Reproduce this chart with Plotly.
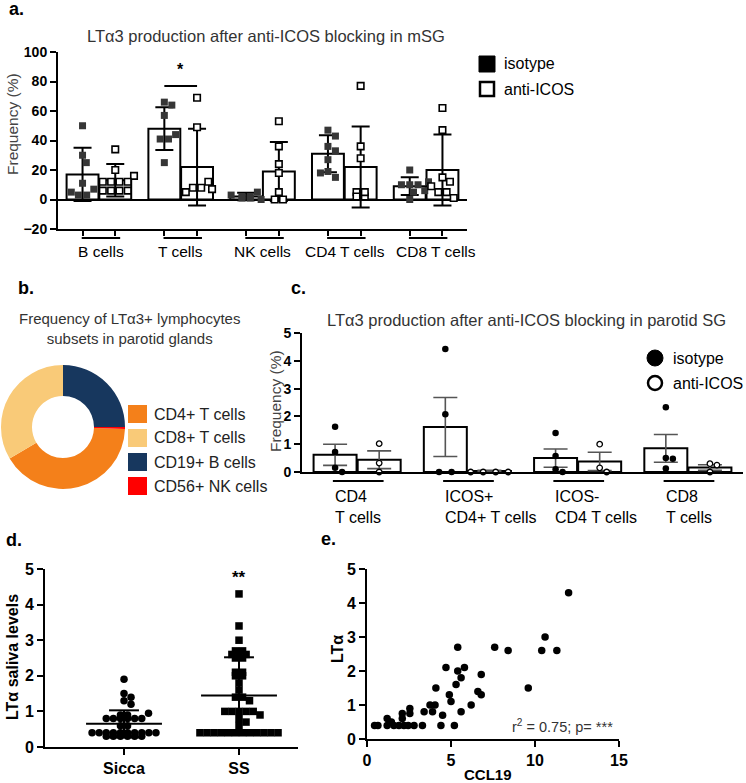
import plotly.graph_objects as go

W, H = 746, 783
FONT = "Arial, Liberation Sans, sans-serif"


def px(x):
    return x / W


def py(y):
    return 1 - y / H


# ---------------- data ----------------
# panel a: LTa3 production after anti-ICOS blocking in mSG (%), mean +/- SD
a_cats = ["B cells", "T cells", "NK cells", "CD4 T cells", "CD8 T cells"]
a_iso_mean = [17, 48, 2, 31, 9]
a_iso_sd = [18, 14.5, 2.5, 12.5, 6]
a_anti_mean = [13, 22, 19, 22, 20]
a_anti_sd = [11, 26, 20, 27.5, 24]
a_iso_pts = [
    [50, 30, 25, 11, 7, 3, 3, 5],
    [66, 64, 57, 44, 41, 41, 25],
    [5, 3, 2, 1, 1, 2, 0],
    [47, 43, 36, 33, 27, 19, 15, 18],
    [20, 12, 10, 10, 10, 6, 5, 0],
]
a_anti_pts = [
    [34, 20, 16, 12, 12, 12, 12, 6, 6, 6, 6],
    [69, 49, 12, 8, 7, 5, 8],
    [53, 36, 24, 18, 5, 0, 0],
    [77, 36, 28, 5, 2, 2, 5],
    [62, 47, 15, 12, 9, 5, 5, 1],
]
a_sig_y = 77

# panel b: frequency of LTa3+ lymphocyte subsets in parotid glands
b_labels = ["CD4+ T cells", "CD8+ T cells", "CD19+ B cells", "CD56+ NK cells"]
b_values = [41, 33.5, 25, 0.5]
b_colors = ["#F4801A", "#F9CA78", "#17375E", "#FF0000"]

# panel c: LTa3 production after anti-ICOS blocking in parotid SG (%), mean +/- SEM
c_cats = ["CD4<br>T cells", "ICOS+<br>CD4+ T cells", "ICOS-<br>CD4 T cells", "CD8<br>T cells"]
c_iso_mean = [0.62, 1.62, 0.5, 0.85]
c_iso_sem = [0.38, 1.06, 0.33, 0.5]
c_anti_mean = [0.44, 0.04, 0.38, 0.16]
c_anti_sem = [0.32, 0.02, 0.33, 0.1]
c_iso_pts = [
    [1.63, 0.72, 0.15, 0.0],
    [4.42, 2.08, 0.0, 0.0],
    [1.4, 0.58, 0.1, 0.0],
    [2.33, 0.5, 0.48, 0.13],
]
c_anti_pts = [
    [1.02, 0.32, 0.0],
    [0.0, 0.0, 0.0, 0.0],
    [1.0, 0.15, 0.0],
    [0.3, 0.25, 0.0],
]

# panel d: LTa saliva levels
d_cats = ["Sicca", "SS"]
d_sicca = [1.9, 1.5, 1.4, 1.3, 1.2, 0.95, 0.9, 0.9,
           0.8, 0.8, 0.8, 0.8, 0.8, 0.8, 0.6, 0.6,
           0.4, 0.4, 0.4, 0.4, 0.4, 0.4, 0.4, 0.4, 0.4, 0.4,
           0.3, 0.3, 0.3, 0.3, 0.3, 0.3]
d_ss = [4.3, 3.4, 3.0, 2.7, 2.7, 2.6, 2.6, 2.6, 2.5, 2.5,
        2.1, 2.1, 2.0, 2.0, 1.8, 1.6, 1.4, 1.4, 1.3,
        1.0, 1.0, 1.0, 1.0, 1.0, 0.9, 0.8, 0.7, 0.6,
        0.4, 0.4, 0.4, 0.4, 0.4, 0.4, 0.4, 0.4, 0.4, 0.4, 0.4, 0.4]
d_mean = [0.65, 1.45]
d_sd = [0.38, 1.07]

# panel e: CCL19 vs LTa
e_ccl19 = [0.45, 0.65, 1.2, 1.2, 1.45, 1.6, 1.9, 2.1, 2.1, 2.2,
           2.45, 2.55, 2.55, 2.8, 3.3, 3.4, 3.75, 4.05, 3.9, 4.1,
           4.5, 4.4, 4.7, 4.9, 5.0, 5.2, 5.3, 5.4, 5.4, 5.6,
           5.6, 5.8, 6.2, 6.6, 6.8, 6.8, 7.6, 8.4, 9.6, 10.4,
           10.6, 11.3, 12.0]
e_lta = [0.4, 0.4, 0.6, 0.4, 0.5, 0.4, 0.4, 0.75, 0.6, 0.4,
         0.4, 0.9, 0.75, 0.4, 0.4, 0.8, 1.0, 1.0, 0.8, 1.5,
         0.7, 0.4, 2.1, 1.3, 1.1, 0.4, 1.6, 2.7, 2.0, 1.8,
         0.8, 2.1, 1.0, 1.4, 1.3, 1.9, 2.7, 2.6, 1.5, 2.6,
         3.0, 2.6, 4.3]
e_note = "r<sup>2</sup> = 0.75; p= ***"


# ---------------- helpers ----------------
def swarm(vals, ypx, xpx, row_step, coll):
    """Deterministic beeswarm: returns x offsets in data units."""
    n = len(vals)
    offs = [None] * n
    placed = []
    groups = {}
    for i, v in enumerate(vals):
        groups.setdefault(v, []).append(i)
    for v, idxs in sorted(groups.items(), key=lambda kv: -len(kv[1])):
        if len(idxs) > 1:
            k = len(idxs)
            for j, i in enumerate(idxs):
                o = (j - (k - 1) / 2) * row_step
                offs[i] = o
                placed.append((o, v * ypx))
    step = coll / 2
    for i, v in enumerate(vals):
        if offs[i] is not None:
            continue
        y = v * ypx
        k = 0
        chosen = None
        while chosen is None:
            cands = [0.0] if k == 0 else [k * step, -k * step]
            for c in cands:
                if all((c - p[0]) ** 2 + (y - p[1]) ** 2 >= coll ** 2 for p in placed):
                    chosen = c
                    break
            k += 1
        offs[i] = chosen
        placed.append((chosen, y))
    return [o / xpx for o in offs]


fig = go.Figure()

# ---------------- panel a ----------------
OFF_A, BW_A = 0.2, 0.39
A_YPX, A_XPX = 177 / 120, 409 / 5
a_x = list(range(len(a_cats)))
for means, sds, sign in [(a_iso_mean, a_iso_sd, -1), (a_anti_mean, a_anti_sd, 1)]:
    fig.add_trace(go.Bar(
        x=[i + sign * OFF_A for i in a_x], y=means, width=BW_A,
        marker=dict(color="white", line=dict(color="black", width=2)),
        error_y=dict(type="data", array=sds, color="black", thickness=2, width=9),
        xaxis="x", yaxis="y", showlegend=False, hoverinfo="skip"))

for pts, sign, style in [(a_iso_pts, -1, "iso"), (a_anti_pts, 1, "anti")]:
    xs, ys = [], []
    for i, vals in enumerate(pts):
        offs = swarm(vals, A_YPX, A_XPX, 8.3, 7.5)
        xs += [i + sign * OFF_A + o for o in offs]
        ys += vals
    if style == "iso":
        mk = dict(symbol="square", size=7, color="#363636", line=dict(width=0))
    else:
        mk = dict(symbol="square", size=6.5, color="white", line=dict(color="black", width=1.6))
    fig.add_trace(go.Scatter(x=xs, y=ys, mode="markers", marker=mk,
                             xaxis="x", yaxis="y", showlegend=False, hoverinfo="skip"))

# ---------------- panel c ----------------
OFF_C, BW_C = 0.2, 0.39
C_YPX, C_XPX = 139 / 5, 441 / 4
c_x = list(range(len(c_cats)))
for means, sems, sign in [(c_iso_mean, c_iso_sem, -1), (c_anti_mean, c_anti_sem, 1)]:
    fig.add_trace(go.Bar(
        x=[i + sign * OFF_C for i in c_x], y=means, width=BW_C,
        marker=dict(color="white", line=dict(color="black", width=2)),
        error_y=dict(type="data", array=sems, color="#555555", thickness=1.6, width=12),
        xaxis="x2", yaxis="y2", showlegend=False, hoverinfo="skip"))

for pts, sign, style in [(c_iso_pts, -1, "iso"), (c_anti_pts, 1, "anti")]:
    xs, ys = [], []
    for i, vals in enumerate(pts):
        offs = swarm(vals, C_YPX, C_XPX, 12.5, 7)
        xs += [i + sign * OFF_C + o for o in offs]
        ys += vals
    if style == "iso":
        mk = dict(symbol="circle", size=6.5, color="black", line=dict(width=0))
    else:
        mk = dict(symbol="circle", size=5.5, color="white", line=dict(color="black", width=1.3))
    fig.add_trace(go.Scatter(x=xs, y=ys, mode="markers", marker=mk, cliponaxis=False,
                             xaxis="x2", yaxis="y2", showlegend=False, hoverinfo="skip"))

# ---------------- panel b (donut) ----------------
rot = (b_values[2] + b_values[3]) / sum(b_values) * 360
fig.add_trace(go.Pie(
    labels=b_labels, values=b_values, hole=0.5, sort=False, direction="clockwise",
    rotation=rot, marker=dict(colors=b_colors, line=dict(width=0)),
    textinfo="none", hoverinfo="skip", showlegend=False,
    domain=dict(x=[px(1), px(125)], y=[py(489), py(365)])))

# ---------------- panel d ----------------
D_YPX, D_XPX = 178 / 5, 115
for gi, (vals, sym) in enumerate([(d_sicca, "circle"), (d_ss, "square")]):
    offs = swarm(vals, D_YPX, D_XPX, 7.1, 7)
    fig.add_trace(go.Scatter(
        x=[gi + o for o in offs], y=vals, mode="markers",
        marker=dict(symbol=sym, size=7.5, color="black", line=dict(width=0)),
        cliponaxis=False, xaxis="x3", yaxis="y3", showlegend=False, hoverinfo="skip"))
lx, ly = [], []
for gi, (m, s) in enumerate(zip(d_mean, d_sd)):
    lx += [gi - 0.33, gi + 0.33, None, gi, gi, None,
           gi - 0.13, gi + 0.13, None, gi - 0.13, gi + 0.13, None]
    ly += [m, m, None, m - s, m + s, None, m + s, m + s, None, m - s, m - s, None]
fig.add_trace(go.Scatter(x=lx, y=ly, mode="lines", line=dict(color="black", width=2),
                         xaxis="x3", yaxis="y3", showlegend=False, hoverinfo="skip"))

# ---------------- panel e ----------------
fig.add_trace(go.Scatter(
    x=e_ccl19, y=e_lta, mode="markers",
    marker=dict(symbol="circle", size=7.5, color="black", line=dict(width=0)),
    cliponaxis=False, xaxis="x4", yaxis="y4", showlegend=False, hoverinfo="skip"))

# ---------------- axes ----------------
tick_bold = lambda s: dict(family=FONT, size=s, color="black", weight="bold")
ax_common = dict(showgrid=False, showline=True, linecolor="black", linewidth=2,
                 zeroline=False, fixedrange=True, automargin=False)

a_tickvals = [i - OFF_A for i in a_x] + [i + OFF_A for i in a_x]
layout_axes = dict(
    xaxis=dict(domain=[px(58), px(467)], range=[-0.5, 4.5], anchor="y",
               tickvals=a_tickvals, showticklabels=False, ticks="outside",
               ticklen=5, tickwidth=1.5, tickcolor="black", **ax_common),
    yaxis=dict(domain=[py(229), py(52)], range=[-20, 100], anchor="x",
               tickvals=[-20, 0, 20, 40, 60, 80, 100], ticks="outside", ticklen=6,
               tickwidth=2, tickcolor="black", tickfont=tick_bold(14),
               showgrid=False, showline=True, linecolor="black", linewidth=2,
               zeroline=True, zerolinecolor="black", zerolinewidth=2, fixedrange=True,
               automargin=False),
    xaxis2=dict(domain=[px(302), px(743)], range=[-0.5, 3.5], anchor="y2",
                showticklabels=False, ticks="", **ax_common),
    yaxis2=dict(domain=[py(472), py(333)], range=[0, 5], anchor="x2", dtick=1,
                ticks="outside", ticklen=6, tickwidth=2, tickcolor="black",
                tickfont=tick_bold(14), **ax_common),
    xaxis3=dict(domain=[px(45), px(298)], range=[-0.687, 1.513], anchor="y3",
                tickvals=[0, 1], ticktext=d_cats, ticks="outside", ticklen=6,
                tickwidth=2, tickcolor="black", tickfont=tick_bold(16), **ax_common),
    yaxis3=dict(domain=[py(747), py(569)], range=[0, 5], anchor="x3", dtick=1,
                ticks="outside", ticklen=6, tickwidth=2, tickcolor="black",
                tickfont=tick_bold(16), **ax_common),
    xaxis4=dict(domain=[px(367), px(619)], range=[0, 15], anchor="y4", dtick=5,
                ticks="outside", ticklen=6, tickwidth=2, tickcolor="black",
                tickfont=tick_bold(16), **ax_common),
    yaxis4=dict(domain=[py(739), py(569)], range=[0, 5], anchor="x4", dtick=1,
                ticks="outside", ticklen=6, tickwidth=2, tickcolor="black",
                tickfont=tick_bold(16), **ax_common),
)

# ---------------- shapes ----------------
shapes = []
for i in a_x:
    shapes.append(dict(type="line", xref="x", yref="paper", x0=i - OFF_A - 0.01, x1=i + OFF_A + 0.06,
                       y0=py(238), y1=py(238), line=dict(color="black", width=2)))
shapes.append(dict(type="line", xref="x", yref="y", x0=1 - OFF_A, x1=1 + OFF_A,
                   y0=a_sig_y, y1=a_sig_y, line=dict(color="black", width=2)))
for i in c_x:
    shapes.append(dict(type="line", xref="x2", yref="paper", x0=i - OFF_C - 0.02, x1=i + OFF_C + 0.04,
                       y0=py(481), y1=py(481), line=dict(color="black", width=2)))
# legend a
shapes.append(dict(type="rect", xref="paper", yref="paper", x0=px(479), x1=px(495),
                   y0=py(72), y1=py(56), fillcolor="black", line=dict(color="black", width=1)))
shapes.append(dict(type="rect", xref="paper", yref="paper", x0=px(480), x1=px(494),
                   y0=py(96), y1=py(82), fillcolor="white", line=dict(color="black", width=2.5)))
# legend c
shapes.append(dict(type="circle", xref="paper", yref="paper", x0=px(647), x1=px(663),
                   y0=py(366), y1=py(350), fillcolor="black", line=dict(color="black", width=1)))
shapes.append(dict(type="circle", xref="paper", yref="paper", x0=px(648), x1=px(662),
                   y0=py(390), y1=py(376), fillcolor="white", line=dict(color="black", width=2.5)))
# legend b
for k, (lab, col) in enumerate(zip(b_labels, b_colors)):
    yc = 414 + k * 24
    shapes.append(dict(type="rect", xref="paper", yref="paper", x0=px(128), x1=px(147),
                       y0=py(yc + 9), y1=py(yc - 9), fillcolor=col, line=dict(width=0)))

# ---------------- annotations ----------------
ann = []


def text(x, y, s, size=14, bold=False, color="black", xanchor="center", yanchor="middle",
         angle=0, align="center", xref="paper", yref="paper", xshift=0):
    ann.append(dict(x=x, y=y, xref=xref, yref=yref, text=s, showarrow=False,
                    xanchor=xanchor, yanchor=yanchor, textangle=angle, align=align,
                    xshift=xshift,
                    font=dict(family=FONT, size=size, color=color,
                              weight="bold" if bold else "normal")))


# panel letters
text(px(7), py(9), "a.", 18, True, xanchor="left")
text(px(16), py(288), "b.", 18, True, xanchor="left")
text(px(289), py(288), "c.", 18, True, xanchor="left")
text(px(4), py(540), "d.", 18, True, xanchor="left")
text(px(319), py(539), "e.", 18, True, xanchor="left")

# panel a
text(px(266), py(36), "LTα3 production after anti-ICOS blocking in mSG", 16.5, color="#333333")
text(px(12), py(124), "Frequency (%)", 15.5, color="#444444", angle=-90)
a_label_shift = [2, 0, 0, 1, 10]
for i, c in enumerate(a_cats):
    text(i, py(251), c, 15.5, xref="x", xshift=a_label_shift[i])
text(1, a_sig_y + 4, "*", 16, True, xref="x", yref="y", yanchor="bottom")
text(px(502), py(64), "isotype", 16, xanchor="left")
text(px(502), py(89), "anti-ICOS", 16, xanchor="left")

# panel b
text(px(129), py(328), "Frequency of LTα3+ lymphocytes<br>subsets in parotid glands", 15,
     color="#333333")
for k, lab in enumerate(b_labels):
    text(px(152), py(414 + k * 24), lab, 16, xanchor="left", color="#222222")

# panel c
text(px(526), py(320), "LTα3 production after anti-ICOS blocking in parotid SG", 16.5,
     color="#333333")
text(px(276), py(401), "Frequency (%)", 15.5, color="#444444", angle=-90)
for i, c in enumerate(c_cats):
    text(i - OFF_C - 0.02, py(507), c, 16, xref="x2", xanchor="left", align="left")
text(px(671), py(358), "isotype", 16, xanchor="left")
text(px(671), py(383), "anti-ICOS", 16, xanchor="left")

# panel d
text(px(12), py(657), "LTα saliva levels", 16, True, angle=-90)
text(1, 4.45, "**", 17, True, xref="x3", yref="y3", yanchor="bottom")

# panel e
text(px(337), py(649), "LTα", 16, True, angle=-90)
text(px(488), py(774), "CCL19", 15, True)
text(px(562), py(726), e_note, 14.5, color="#333333")

fig.update_layout(
    width=W, height=H, margin=dict(l=0, r=0, t=0, b=0, autoexpand=False),
    paper_bgcolor="white", plot_bgcolor="white", barmode="overlay",
    showlegend=False, shapes=shapes, annotations=ann,
    font=dict(family=FONT, color="black"),
    **layout_axes)

fig.write_html("out.html", config={"displayModeBar": False},
               post_script="document.body.style.margin='0px';document.body.style.overflow='hidden';")
